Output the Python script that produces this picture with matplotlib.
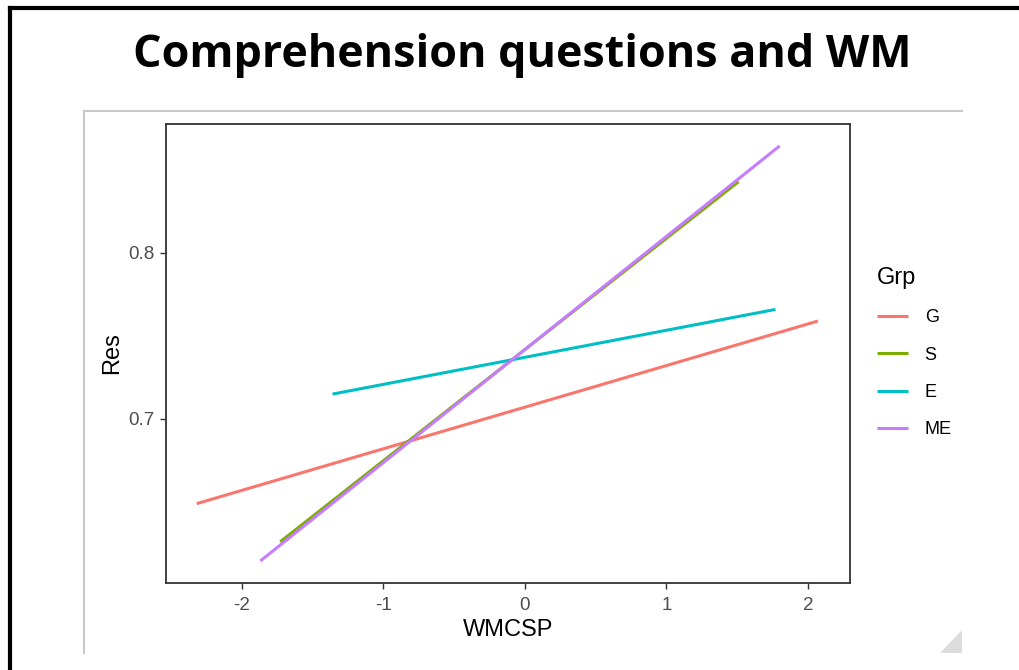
import matplotlib
matplotlib.use("Agg")
import matplotlib.pyplot as plt
from matplotlib.lines import Line2D
from matplotlib.patches import Polygon

# fitted line end points per group (WMCSP -> Res)
groups = ["G", "S", "E", "ME"]
colors = ["#F8766D", "#7CAE00", "#00BFC4", "#C77CFF"]
x_start = [-2.32, -1.73, -1.36, -1.87]
x_end = [2.07, 1.51, 1.77, 1.80]
y_start = [0.649, 0.626, 0.715, 0.6145]
y_end = [0.759, 0.843, 0.766, 0.8645]

x_ticks = [-2, -1, 0, 1, 2]
y_ticks = [0.7, 0.8]

W, H = 1019, 670
fig = plt.figure(figsize=(W / 100, H / 100), dpi=100)
fig.patch.set_facecolor("white")


def px(x, y):
    return x / W, 1 - y / H


# slide frame (top and left edges) and embedded picture frame
for (x0, y0), (x1, y1), c, lw in [((10, 8), (W, 8), "black", 3),
                                  ((10, 8), (10, H), "black", 3),
                                  ((84, 111), (962, 111), "#c8c8c8", 1.5),
                                  ((84, 111), (84, 653), "#c8c8c8", 1.5)]:
    a, b = px(x0, y0)
    c1, d = px(x1, y1)
    fig.add_artist(Line2D([a, c1], [b, d], color=c, lw=lw))

# little resize grip in the corner
grip = Polygon([px(940, 653), px(962, 653), px(962, 630)], closed=True,
               facecolor="#dcdcdc", edgecolor="none", transform=fig.transFigure)
fig.add_artist(grip)

tx, ty = px(522, 55)
fig.text(tx, ty, "Comprehension questions and WM",
         ha="center", va="center", fontsize=32.3, fontweight="bold",
         family="Open Sans")

ax = fig.add_axes([166 / W, (H - 583) / H, (850 - 166) / W, (583 - 124) / H])
for g, c, xs, xe, ys, ye in zip(groups, colors, x_start, x_end, y_start, y_end):
    ax.plot([xs, xe], [ys, ye], color=c, lw=2.2, label=g, solid_capstyle="butt")

ax.set_xlim(-2.537, 2.297)
ax.set_ylim(0.6012, 0.8777)
ax.set_xticks(x_ticks)
ax.set_xticklabels([str(t) for t in x_ticks])
ax.set_yticks(y_ticks)
ax.set_yticklabels([str(t) for t in y_ticks])
for s in ax.spines.values():
    s.set_color("#333333")
    s.set_linewidth(1.3)
ax.tick_params(length=4, width=1, color="#333333", labelcolor="#4D4D4D",
               labelsize=13.5, pad=4)
ax.tick_params(axis="x", pad=6)
for lab in ax.get_xticklabels() + ax.get_yticklabels():
    lab.set_family("Liberation Sans")

ax.set_xlabel("WMCSP", fontsize=17, family="Liberation Sans", labelpad=4)
ax.set_ylabel("Res", fontsize=17, family="Liberation Sans", labelpad=4)

lx, ly = px(866, 256)
leg = fig.legend(title="Grp", loc="upper left", bbox_to_anchor=(lx, ly),
                 frameon=False, prop={"family": "Liberation Sans", "size": 13},
                 handlelength=1.75, labelspacing=1.13, handletextpad=0.9,
                 borderaxespad=0, borderpad=0.6)
leg.get_title().set_family("Liberation Sans")
leg.get_title().set_fontsize(17)
leg._legend_box.align = "left"

fig.savefig("out.png", dpi=100)
